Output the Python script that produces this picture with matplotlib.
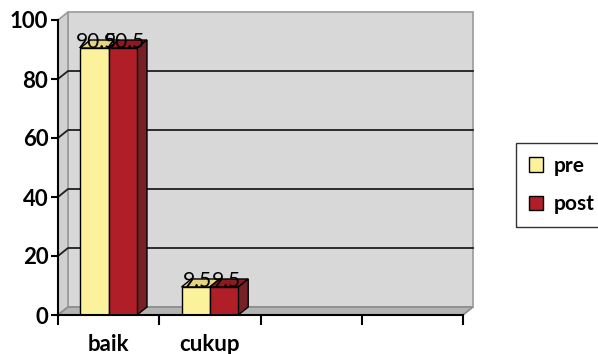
import matplotlib.pyplot as plt
from matplotlib.patches import Polygon, Patch
import numpy as np

plt.rcParams['font.family'] = ['Lato', 'DejaVu Sans']

categories = ['baik', 'cukup', '', '']
pre = [90.5, 9.5, None, None]
post = [90.5, 9.5, None, None]
series_names = ['pre', 'post']
yticks = [0, 20, 40, 60, 80, 100]

front_col = {'pre': '#FDF29C', 'post': '#B01F28'}
top_col = {'pre': '#E3D67F', 'post': '#8E1A21'}
side_col = {'pre': '#D6C96F', 'post': '#772126'}

W, H = 598, 354
fig = plt.figure(figsize=(W / 100, H / 100), dpi=100)
ax_l, ax_b, ax_w, ax_h = 58 / W, 39 / H, 405 / W, 295 / H
ax = fig.add_axes([ax_l, ax_b, ax_w, ax_h])
ax.set_xlim(-0.5, 3.5)
ax.set_ylim(0, 100)

# depth of the 3d box, in pixels, converted to data units
dpx, dpy = 10, 8
dx = dpx / (ax_w * W / 4)
dy = dpy / (ax_h * H / 100)

x0, x1 = -0.5, 3.5
# back wall
ax.add_patch(Polygon([(x0 + dx, dy), (x1 + dx, dy), (x1 + dx, 100 + dy), (x0 + dx, 100 + dy)],
                     closed=True, facecolor='#D8D8D8', edgecolor='#9A9A9A', lw=1.2,
                     clip_on=False, zorder=0))
# side wall
ax.add_patch(Polygon([(x0, 0), (x0 + dx, dy), (x0 + dx, 100 + dy), (x0, 100)],
                     closed=True, facecolor='#D0D0D0', edgecolor='#9A9A9A', lw=1.2,
                     clip_on=False, zorder=0))
# floor
ax.add_patch(Polygon([(x0, 0), (x1, 0), (x1 + dx, dy), (x0 + dx, dy)],
                     closed=True, facecolor='#B4B4B4', edgecolor='#8C8C8C', lw=1.2,
                     clip_on=False, zorder=0))

# gridlines on side and back wall
for v in yticks[1:-1]:
    ax.plot([x0, x0 + dx, x1 + dx], [v, v + dy, v + dy], color='#1E1E1E', lw=1.3,
            clip_on=False, zorder=1)

bw = 0.28
x = np.arange(len(categories))
for name, vals, off in [('pre', pre, -bw / 2), ('post', post, bw / 2)]:
    for i, v in enumerate(vals):
        if v is None:
            continue
        left = x[i] + off - bw / 2
        right = left + bw
        ax.add_patch(Polygon([(left, v), (right, v), (right + dx, v + dy), (left + dx, v + dy)],
                             closed=True, facecolor=top_col[name], edgecolor='black', lw=1,
                             clip_on=False, zorder=2))
        ax.add_patch(Polygon([(right, 0), (right + dx, dy), (right + dx, v + dy), (right, v)],
                             closed=True, facecolor=side_col[name], edgecolor='black', lw=1,
                             clip_on=False, zorder=2))
        ax.bar(x[i] + off, v, width=bw, color=front_col[name], edgecolor='black',
               lw=1, zorder=3)

# value labels
for vals, off in [(pre, -bw / 2), (post, bw / 2)]:
    for i, v in enumerate(vals):
        if v is None:
            continue
        ax.text(x[i] + off + dx * 0.2, v, f'{v}', ha='center', va='baseline',
                fontsize=15, color='black', zorder=5, clip_on=False)

for s in ['top', 'right']:
    ax.spines[s].set_visible(False)
ax.spines['left'].set_linewidth(1.5)
ax.spines['bottom'].set_linewidth(1.5)
ax.spines['left'].set_zorder(4)
ax.spines['bottom'].set_zorder(4)
ax.patch.set_visible(False)

ax.set_yticks(yticks)
ax.set_yticklabels([str(t) for t in yticks], fontsize=16, fontweight='bold')
ax.tick_params(axis='y', direction='out', length=5, width=1.5, pad=2)

ax.set_xticks(np.arange(-0.5, 4, 1))
ax.set_xticklabels([])
ax.set_xticks(x, minor=True)
ax.set_xticklabels(categories, minor=True, fontsize=16, fontweight='bold')
ax.tick_params(axis='x', which='major', direction='out', length=7, width=1.5)
ax.tick_params(axis='x', which='minor', length=0, pad=14)

handles = [Patch(facecolor=front_col[n], edgecolor='black', lw=1) for n in series_names]
leg = fig.legend(handles, series_names, loc='upper left', bbox_to_anchor=(516 / W, 1 - 143 / H),
                 frameon=True, fancybox=False, edgecolor='black', handlelength=0.7,
                 handleheight=0.7, handletextpad=0.5, labelspacing=0.9, borderpad=0.6,
                 borderaxespad=0, prop={'size': 15, 'weight': 'bold'})
leg.get_frame().set_linewidth(1.0)

fig.savefig('out.png', dpi=100)
